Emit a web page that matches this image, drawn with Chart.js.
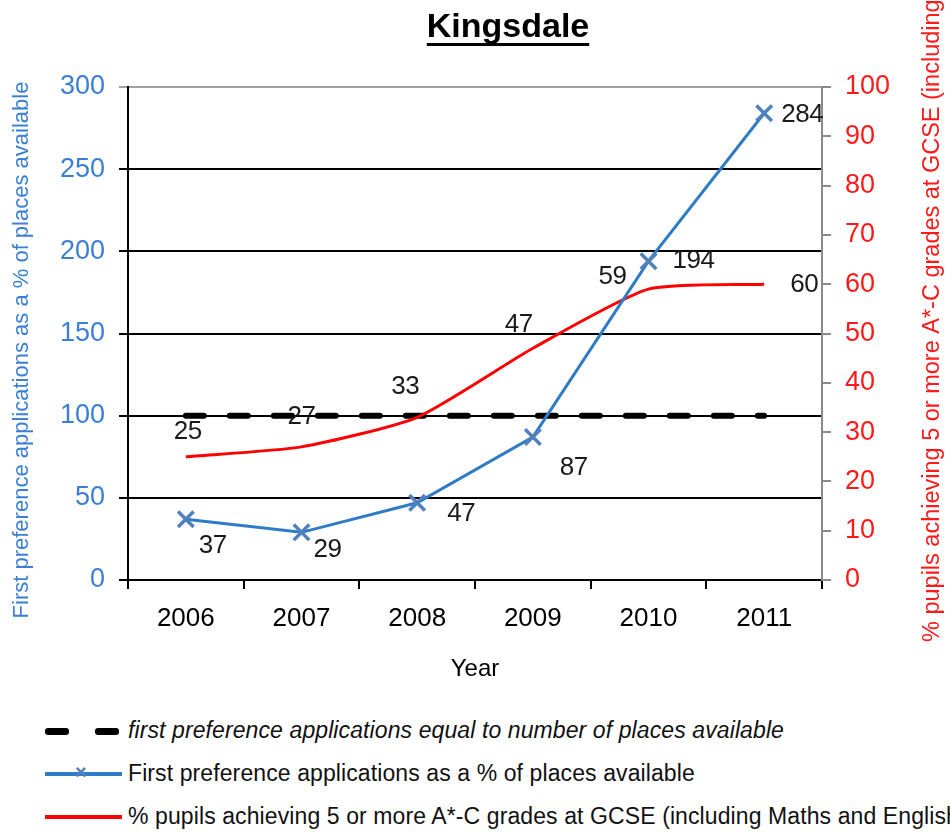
<!DOCTYPE html>
<html>
<head>
<meta charset="utf-8">
<script src="https://cdn.jsdelivr.net/npm/chart.js@4"></script>
<style>
  body { margin: 0; background: #fff; font-family: "Liberation Sans", Arial, sans-serif; }
  #wrap { position: relative; width: 950px; height: 832px; overflow: hidden; }
  #legend { position: absolute; left: 45px; top: 709px; width: 905px; white-space: nowrap; }
  .row { height: 43px; display: flex; align-items: center; font-size: 23px; letter-spacing: 0.1px; color: #111; }
  .sw { width: 77px; height: 4px; margin-right: 6px; position: relative; flex: none; }
  .dash { display: inline-block; width: 24px; height: 7px; border-radius: 3px; background: #000; position: absolute; top: -1px; }
</style>
</head>
<body>
<div id="wrap">
  <canvas id="chart" width="950" height="700"></canvas>
  <div id="legend">
    <div class="row"><span class="sw" style="background:none;"><span class="dash" style="left:0"></span><span class="dash" style="left:50px"></span></span><i>first preference applications equal to number of places available</i></div>
    <div class="row"><span class="sw" style="background:#2f7cc6;"><span style="position:absolute;left:30px;top:-11px;color:#4f81bd;font-size:20px;font-weight:bold;">×</span></span>First preference applications as a % of places available</div>
    <div class="row"><span class="sw" style="background:#ff0000;"></span>% pupils achieving 5 or more A*-C grades at GCSE (including Maths and English)</div>
  </div>
</div>
<script>
const years = ["2006", "2007", "2008", "2009", "2010", "2011"]
const applications = [37, 29, 47, 87, 194, 284]
const gcse = [25, 27, 33, 47, 59, 60]
const placesLine = [100, 100, 100, 100, 100, 100]
const leftTicks = [0, 50, 100, 150, 200, 250, 300]
const rightTicks = [0, 10, 20, 30, 40, 50, 60, 70, 80, 90, 100]

// label offsets (px) from each point, like the Excel layout
const appLabelOffsets = [[27, 27], [26, 17], [44, 11], [41, 31], [45, 0], [38, 2]]
const gcseLabelOffsets = [[2, -25], [0, -30], [-12, -30], [-14, -23], [-36, -12], [40, 1]]

const FONT = '"Liberation Sans", Arial, sans-serif'

const extras = {
    id: 'extras',
    afterDatasetsDraw(chart) {
        const ctx = chart.ctx
        ctx.save()
        ctx.fillStyle = '#1a1a1a'
        ctx.font = '26px ' + FONT
        ctx.letterSpacing = '-0.5px'
        ctx.textAlign = 'center'
        ctx.textBaseline = 'middle'
        chart.getDatasetMeta(1).data.forEach((pt, i) => {
            ctx.fillText(applications[i], pt.x + appLabelOffsets[i][0], pt.y + appLabelOffsets[i][1])
        })
        chart.getDatasetMeta(2).data.forEach((pt, i) => {
            ctx.fillText(gcse[i], pt.x + gcseLabelOffsets[i][0], pt.y + gcseLabelOffsets[i][1])
        })

        // title
        ctx.letterSpacing = '0px'
        ctx.font = 'bold 34px ' + FONT
        ctx.fillStyle = '#000'
        ctx.fillText('Kingsdale', 508, 28)
        const w = ctx.measureText('Kingsdale').width
        ctx.fillRect(508 - w / 2, 43, w, 3)

        // axis titles
        ctx.font = '22px ' + FONT
        ctx.textBaseline = 'middle'
        ctx.fillStyle = '#3a7fd5'
        ctx.save()
        ctx.translate(22, 350)
        ctx.rotate(-Math.PI / 2)
        ctx.textAlign = 'center'
        ctx.fillText('First preference applications as a % of places available', 0, 0)
        ctx.restore()

        ctx.font = '23.5px ' + FONT
        ctx.fillStyle = '#ff1a1a'
        ctx.save()
        ctx.translate(933, 642)
        ctx.rotate(-Math.PI / 2)
        ctx.textAlign = 'left'
        ctx.fillText('% pupils achieving 5 or more A*-C grades at GCSE (including Maths and English)', 0, 0)
        ctx.restore()
        ctx.restore()
    }
}

new Chart(
    document.getElementById('chart'),
    {
        type: 'line',
        data: {
            labels: years,
            datasets: [
                {
                    data: placesLine,
                    yAxisID: 'y',
                    borderColor: '#000',
                    borderWidth: 6,
                    borderDash: [18, 26],
                    borderCapStyle: 'round',
                    pointRadius: 0,
                    order: 3
                },
                {
                    data: applications,
                    yAxisID: 'y',
                    borderColor: '#2f7cc6',
                    borderWidth: 3,
                    pointStyle: 'crossRot',
                    pointRadius: 11,
                    pointBorderWidth: 3.5,
                    pointBorderColor: '#4f81bd',
                    tension: 0,
                    order: 1
                },
                {
                    data: gcse,
                    yAxisID: 'y2',
                    borderColor: '#ff0000',
                    borderWidth: 3,
                    pointRadius: 0,
                    tension: 0.2,
                    order: 2
                }
            ]
        },
        options: {
            responsive: false,
            animation: false,
            layout: { padding: { top: 87, left: 0, right: 0, bottom: 12 } },
            plugins: {
                legend: { display: false },
                tooltip: { enabled: false }
            },
            scales: {
                x: {
                    offset: true,
                    grid: { offset: true, drawOnChartArea: false, color: '#000', lineWidth: 2, tickLength: 9 },
                    border: { color: '#000', width: 2 },
                    ticks: { color: '#000', font: { family: FONT, size: 26 }, padding: 14 },
                    title: { display: true, text: 'Year', color: '#000', font: { family: FONT, size: 24 }, padding: { top: 4 } },
                    afterFit: s => { s.height = 108 }
                },
                y: {
                    position: 'left',
                    min: 0,
                    max: 300,
                    afterBuildTicks: s => { s.ticks = leftTicks.map(v => ({ value: v })) },
                    grid: {
                        color: c => c.tick && c.tick.value === 300 ? '#a0a0a0' : '#000',
                        lineWidth: 2,
                        tickLength: 9
                    },
                    border: { color: '#000', width: 2 },
                    ticks: { color: '#3a7fd5', font: { family: FONT, size: 27 }, padding: 14 },
                    afterFit: s => { s.width = 128 }
                },
                y2: {
                    position: 'right',
                    min: 0,
                    max: 100,
                    afterBuildTicks: s => { s.ticks = rightTicks.map(v => ({ value: v })) },
                    grid: { drawOnChartArea: false, color: '#8a8a8a', lineWidth: 2, tickLength: 9 },
                    border: { color: '#8a8a8a', width: 2 },
                    ticks: { color: '#ff1a1a', font: { family: FONT, size: 27 }, padding: 14 },
                    afterFit: s => { s.width = 128 }
                }
            }
        },
        plugins: [extras]
    }
)
</script>
</body>
</html>
